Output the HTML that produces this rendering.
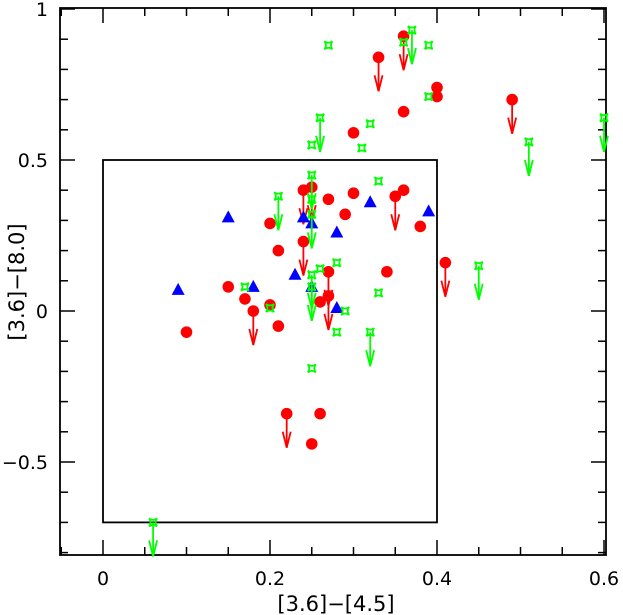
<!DOCTYPE html>
<html><head><meta charset="utf-8"><style>
html,body{margin:0;padding:0;background:#fff;}
svg{display:block;font-family:"DejaVu Sans","Liberation Sans",sans-serif;}
</style></head><body>
<svg id="chart" width="623" height="615" xmlns="http://www.w3.org/2000/svg">
<g id="axes"></g>
<g id="marks"></g>
<text x="336" y="611" font-size="21" text-anchor="middle">[3.6]−[4.5]</text>
<text x="0" y="0" font-size="21" text-anchor="middle" transform="translate(24,282) rotate(-90)">[3.6]−[8.0]</text>
</svg>
<script>
const xTicks=[0,0.2,0.4,0.6];
const xTickLabels=["0","0.2","0.4","0.6"];
const yTicks=[-0.5,0,0.5,1];
const yTickLabels=["−0.5","0","0.5","1"];
const redX=[0.33,0.36,0.40,0.40,0.36,0.30,0.49,0.41,0.24,0.25,0.27,0.30,0.29,0.35,0.36,0.20,0.24,0.21,0.34,0.27,0.15,0.17,0.20,0.18,0.21,0.10,0.26,0.27,0.22,0.26,0.25,0.38];
const redY=[0.84,0.91,0.74,0.71,0.66,0.59,0.70,0.16,0.40,0.41,0.37,0.39,0.32,0.38,0.40,0.29,0.23,0.20,0.13,0.13,0.08,0.04,0.02,0.00,-0.05,-0.07,0.03,0.05,-0.34,-0.34,-0.44,0.28];
const redUL=[1,1,0,0,0,0,1,1,1,1,0,0,0,1,0,0,1,0,0,1,0,0,0,1,0,0,0,1,1,0,0,0];
const blueX=[0.09,0.15,0.18,0.23,0.24,0.25,0.28,0.32,0.25,0.28,0.39];
const blueY=[0.07,0.31,0.08,0.12,0.31,0.29,0.26,0.36,0.08,0.01,0.33];
const greenX=[0.27,0.36,0.37,0.39,0.39,0.26,0.32,0.25,0.31,0.51,0.60,0.25,0.21,0.33,0.25,0.25,0.26,0.28,0.25,0.17,0.20,0.29,0.28,0.33,0.32,0.25,0.25,0.06,0.45];
const greenY=[0.88,0.89,0.93,0.88,0.71,0.64,0.62,0.55,0.54,0.56,0.64,0.45,0.38,0.43,0.37,0.32,0.14,0.16,0.12,0.08,0.01,0.00,-0.07,0.06,-0.07,0.08,-0.19,-0.70,0.15];
const greenUL=[0,0,1,0,0,1,0,0,0,1,1,1,1,0,0,1,0,0,1,0,0,0,0,0,1,1,0,1,1];

const NS="http://www.w3.org/2000/svg";
const sx=v=>103+v*835, sy=v=>311-v*302;
const L=60,R=606,T=8,B=555;
const axes=document.getElementById('axes'), marks=document.getElementById('marks');
function mk(tag,attrs,parent){const e=document.createElementNS(NS,tag);for(const k in attrs)e.setAttribute(k,attrs[k]);parent.appendChild(e);return e;}
const frame=mk('rect',{x:L,y:T,width:R-L,height:B-T,fill:'none',stroke:'#000','stroke-width':1.8},axes);


const box=mk('rect',{x:sx(0),y:sy(0.5),width:sx(0.4)-sx(0),height:sy(-0.7)-sy(0.5),fill:'none',stroke:'#000','stroke-width':1.8},axes);


for(let i=-1;i<=12;i++){const v=i*0.05;const x=sx(v);if(x<L+1||x>R-1)continue;const len=(i%4===0)?15:8;
 mk('line',{x1:x,y1:B,x2:x,y2:B-len,stroke:'#000','stroke-width':1.5},axes);
 mk('line',{x1:x,y1:T,x2:x,y2:T+len,stroke:'#000','stroke-width':1.5},axes);}
for(let i=-8;i<=10;i++){const v=i*0.1;const y=sy(v);if(y<T+1||y>B-1)continue;const len=(i%5===0)?15:8;
 mk('line',{x1:L,y1:y,x2:L+len,y2:y,stroke:'#000','stroke-width':1.5},axes);
 mk('line',{x1:R,y1:y,x2:R-len,y2:y,stroke:'#000','stroke-width':1.5},axes);}
xTicks.forEach((v,i)=>{const t=mk('text',{x:sx(v),y:585,'font-size':19,'text-anchor':'middle'},axes);t.textContent=xTickLabels[i];
 
 });
yTicks.forEach((v,i)=>{const t=mk('text',{x:48,y:sy(v)+7,'font-size':19,'text-anchor':'end'},axes);t.textContent=yTickLabels[i];
 
 });
function arrow(x,y,color,g){mk('line',{x1:x,y1:y,x2:x,y2:y+34,stroke:color,'stroke-width':1.8},g);
 mk('polyline',{points:`${x-4},${y+18} ${x},${y+34} ${x+4},${y+18}`,fill:'none',stroke:color,'stroke-width':1.8},g);}
redX.forEach((v,i)=>{const x=sx(v),y=sy(redY[i]);const g=mk('g',{},marks);
 
 
 if(redUL[i])arrow(x,y,'#f00',g);
 mk('circle',{cx:x,cy:y,r:5.8,fill:'#f00'},g);});
blueX.forEach((v,i)=>{const x=sx(v),y=sy(blueY[i]);const p=mk('polygon',{points:`${x},${y-7} ${x-6.5},${y+5} ${x+6.5},${y+5}`,fill:'#00f'},marks);
 
 });
greenX.forEach((v,i)=>{const x=sx(v),y=sy(greenY[i]);const g=mk('g',{},marks);
 
 
 if(greenUL[i])arrow(x,y,'#0f0',g);
 mk('path',{d:`M${x-4},${y-4} Q${x},${y-1} ${x+4},${y-4} Q${x+1},${y} ${x+4},${y+4} Q${x},${y+1} ${x-4},${y+4} Q${x-1},${y} ${x-4},${y-4}Z`,fill:'none',stroke:'#0f0','stroke-width':1.8},g);});
</script>
</body></html>
